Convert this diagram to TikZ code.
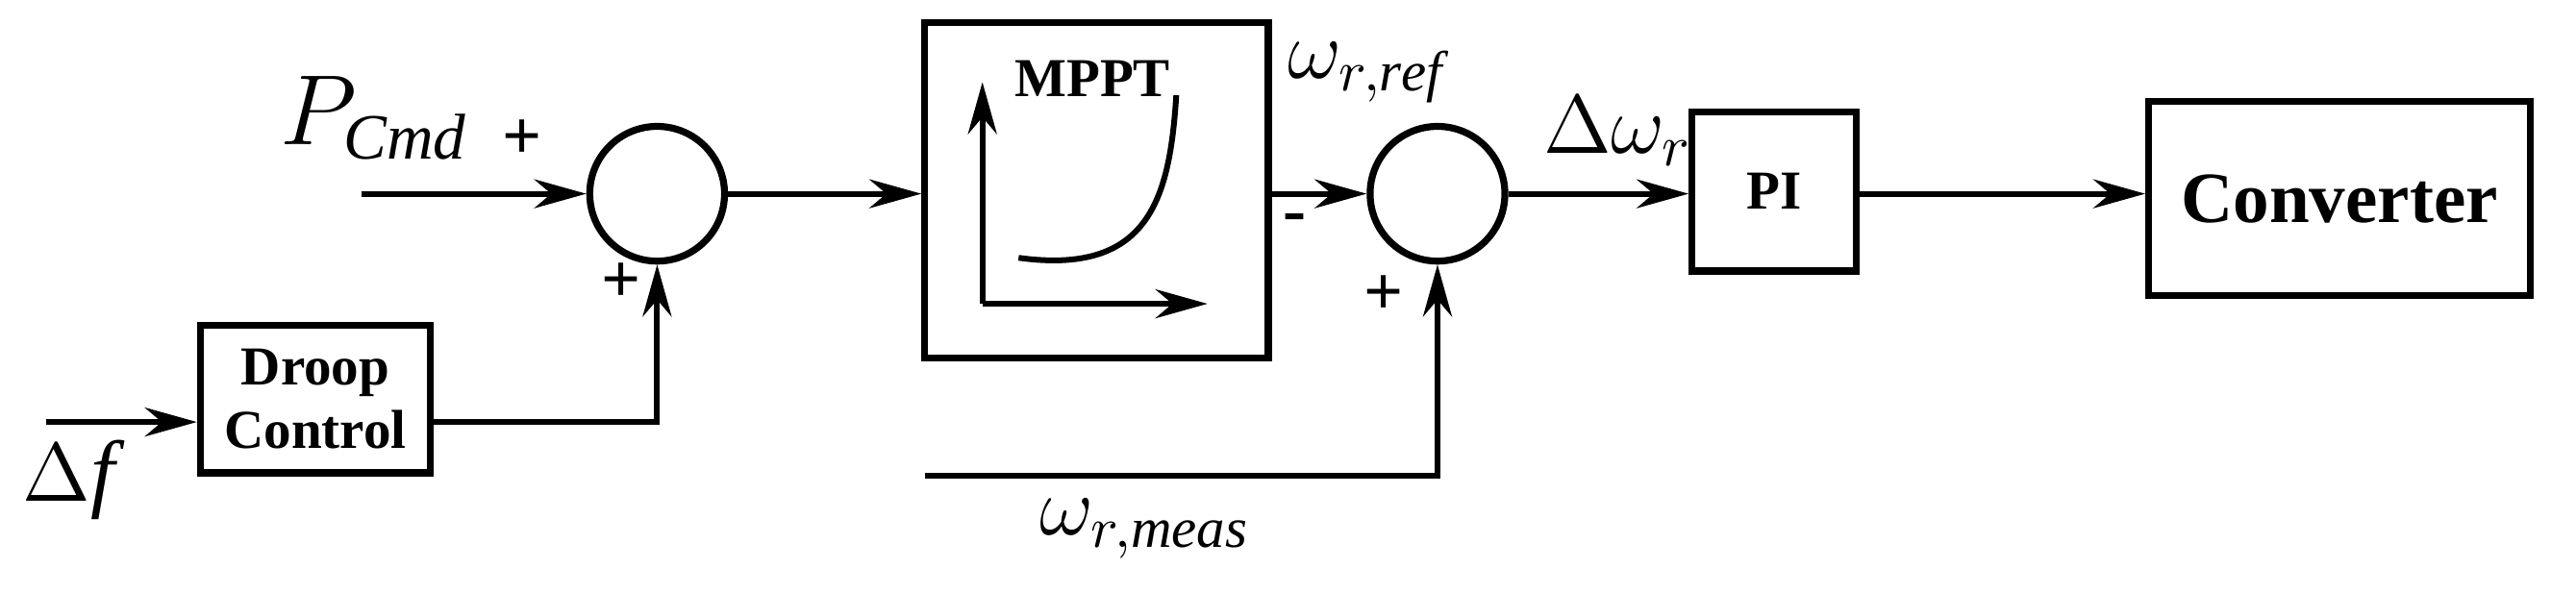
\documentclass[tikz,border=0pt]{standalone}
\usepackage{fontspec}
\setmainfont{Liberation Serif}
\usetikzlibrary{arrows.meta}
\begin{document}
\begin{tikzpicture}[x=0.01cm,y=-0.01cm,line width=1pt,
  arr/.style={-{Stealth[length=9pt,width=5pt]}},
  blk/.style={draw,line width=1.2pt},
  sum/.style={draw,circle,minimum size=0.82cm,inner sep=0pt,line width=1.2pt},
  lbl/.style={font=\bfseries\fontsize{9.5}{11}\selectfont,align=center},
  sgn/.style={font=\bfseries\fontsize{12}{12}\selectfont}]
\useasboundingbox (0,0) rectangle (1568,361);
% sums
\node[sum] (s1) at (400,118) {};
\node[sum] (s2) at (875,118) {};
% blocks
\node[blk,minimum width=1.4cm,minimum height=0.9cm,lbl] (droop) at (192,243) {Droop\\Control};
\node[blk,minimum width=2.09cm,minimum height=2.04cm] (mppt) at (667.5,116) {};
\node[blk,minimum width=1.0cm,minimum height=0.97cm,lbl] (pi) at (1080,116.5) {PI};
\node[blk,minimum width=2.32cm,minimum height=1.18cm,font=\bfseries\fontsize{12.5}{14}\selectfont] (conv) at (1424,121) {Converter};
% coordinates
\coordinate (pin) at (220,118);
\coordinate (fin) at (28,257);
\coordinate (d1) at (400,257);
\coordinate (min) at (563,290);
\coordinate (m1) at (875,290);
% connectors
\draw[arr] (pin) -- (s1.west);
\draw[arr] (fin) -- (fin -| droop.west);
\draw[arr] (droop.east |- d1) -- (d1) -- (s1.south);
\draw[arr] (s1.east) -- (mppt.west |- s1);
\draw[arr] (mppt.east |- s2) -- (s2.west);
\draw[arr] (min) -- (m1) -- (s2.south);
\draw[arr] (s2.east) -- (pi.west |- s2);
\draw[arr] (pi.east |- s2) -- (conv.west |- s2);
% MPPT inside
\coordinate (o) at (598,185);
\coordinate (ya) at (598,50);
\coordinate (xa) at (735,185);
\draw[arr] (o) -- (ya);
\draw[arr] (o) -- (xa);
\draw (620,157) .. controls (700,168) and (712,120) .. (716,58);
\node[lbl] (mt) at (665,48) {MPPT};
% labels
\node (pc) at (228,72) {\fontsize{16}{16}\selectfont$P_{\mathit{Cmd}}$};
\node[sgn] (p1) at (318,85) {+};
\node[sgn] (p2) at (378,172) {+};
\node (df) at (42,292) {\fontsize{15}{15}\selectfont$\Delta\mathit{f}$};
\node[sgn] (m2) at (788,136) {-};
\node[sgn] (p3) at (842,180) {+};
\node (wref) at (832,44) {\fontsize{14}{14}\selectfont$\omega_{r,\mathit{ref}}$};
\node (dw) at (985,80) {\fontsize{14}{14}\selectfont$\Delta\omega_r$};
\node (wm) at (697,322) {\fontsize{14}{14}\selectfont$\omega_{r,\mathit{meas}}$};
\end{tikzpicture}
\end{document}
